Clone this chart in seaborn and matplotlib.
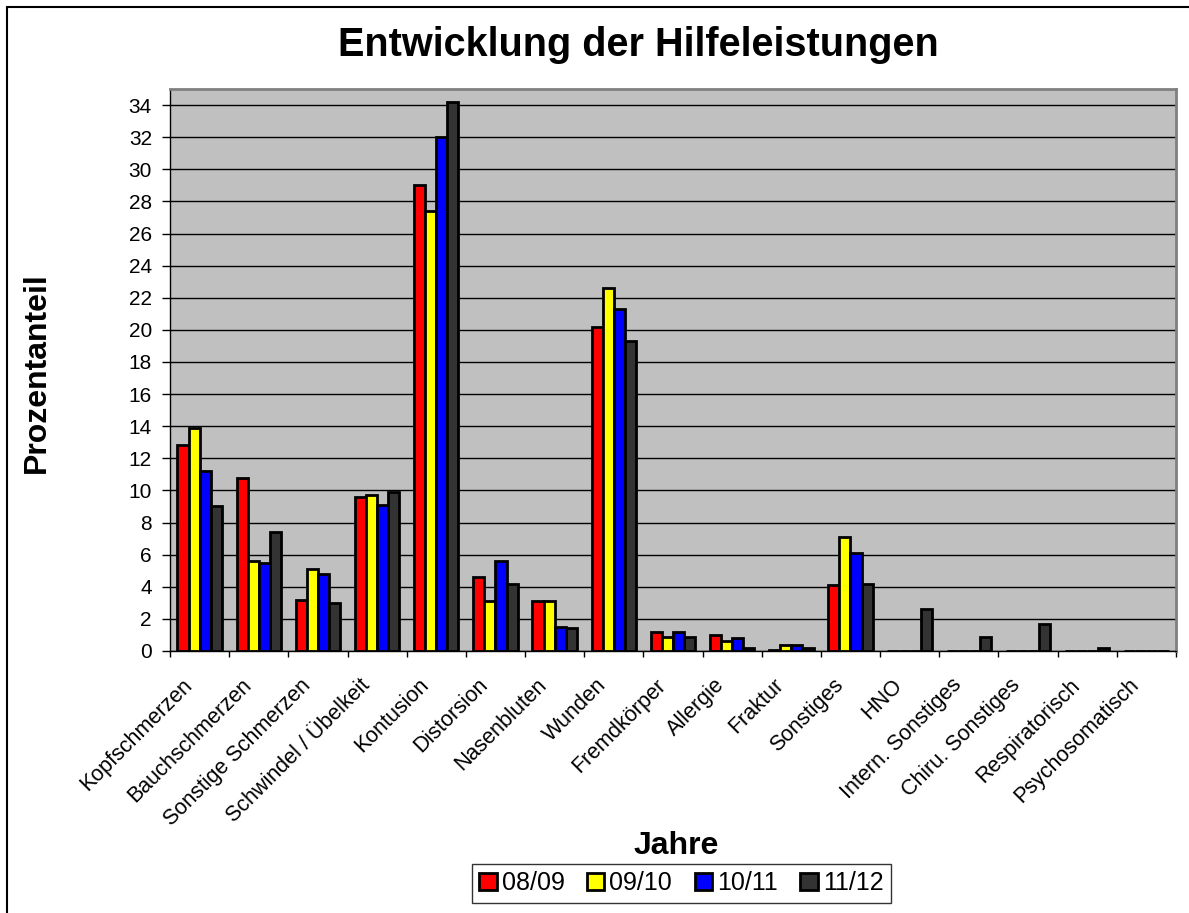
import matplotlib
matplotlib.use("Agg")
import matplotlib.pyplot as plt
import matplotlib.transforms as mtransforms
import pandas as pd
import numpy as np
import seaborn as sns
from matplotlib.patches import Rectangle

sns.set_theme(style="white")
plt.rcParams['font.family'] = ['Liberation Sans', 'DejaVu Sans']
plt.rcParams['text.color'] = 'black'
plt.rcParams['axes.labelcolor'] = 'black'
plt.rcParams['xtick.color'] = 'black'
plt.rcParams['ytick.color'] = 'black'

# categories and values
kategorien = ["Kopfschmerzen", "Bauchschmerzen", "Sonstige Schmerzen",
              "Schwindel / Übelkeit", "Kontusion", "Distorsion", "Nasenbluten",
              "Wunden", "Fremdkörper", "Allergie", "Fraktur", "Sonstiges", "HNO",
              "Intern. Sonstiges", "Chiru. Sonstiges", "Respiratorisch",
              "Psychosomatisch"]
jahre = ["08/09", "09/10", "10/11", "11/12"]

w_0809 = [12.8, 10.8, 3.2, 9.6, 29.0, 4.6, 3.1, 20.2, 1.2, 1.0, 0.05, 4.1, 0, 0, 0, 0, 0]
w_0910 = [13.9, 5.6, 5.1, 9.7, 27.4, 3.1, 3.1, 22.6, 0.9, 0.6, 0.4, 7.1, 0, 0, 0, 0, 0]
w_1011 = [11.2, 5.5, 4.8, 9.1, 32.0, 5.6, 1.5, 21.3, 1.2, 0.8, 0.4, 6.1, 0, 0, 0, 0, 0]
w_1112 = [9.0, 7.4, 3.0, 9.9, 34.2, 4.2, 1.4, 19.3, 0.9, 0.2, 0.2, 4.2, 2.6, 0.9, 1.7, 0.2, 0]

farben = ["#FF0000", "#FFFF00", "#0000FF", "#333333"]

df = pd.DataFrame({"Kategorie": kategorien * 4,
                   "Jahr": np.repeat(jahre, len(kategorien)),
                   "Wert": w_0809 + w_0910 + w_1011 + w_1112})

fig = plt.figure(figsize=(11.89, 9.13), dpi=100)
ax = fig.add_axes([0.143, 0.287, 0.846, 0.6155])

sns.barplot(data=df, x="Kategorie", y="Wert", hue="Jahr", palette=farben,
            width=0.75, edgecolor="black", linewidth=2, saturation=1,
            ax=ax, legend=True)

ax.set_facecolor("#C0C0C0")
ax.set_ylim(0, 35)
ax.set_xlim(-0.5, len(kategorien) - 0.5)
ax.set_yticks(range(0, 35, 2))
ax.yaxis.grid(True, color="black", linewidth=1)
ax.set_axisbelow(True)
for s in ["top", "right"]:
    ax.spines[s].set_color("#808080")
    ax.spines[s].set_linewidth(2)
for s in ["left", "bottom"]:
    ax.spines[s].set_color("black")
    ax.spines[s].set_linewidth(1)

ax.set_xticks(np.arange(len(kategorien) + 1) - 0.5, minor=True)
ax.set_xticks(range(len(kategorien)))
ax.set_xticklabels(kategorien, rotation=45, ha="right", rotation_mode="anchor",
                   fontsize=15.5)
ax.tick_params(axis="x", which="major", length=0, pad=7)
ax.tick_params(axis="x", which="minor", length=4.5, color="black", width=1,
               direction="out", bottom=True)
ax.tick_params(axis="y", length=6, color="black", width=1, direction="out",
               left=True, labelsize=15, pad=7)

# shift the slanted labels a bit down and left, like the original
verschiebung = mtransforms.ScaledTranslation(-18 / 100, -14 / 100, fig.dpi_scale_trans)
for lab in ax.get_xticklabels():
    lab.set_transform(lab.get_transform() + verschiebung)

ax.set_xlabel("Jahre", fontsize=23, fontweight="bold")
ax.xaxis.set_label_coords(0.503, -0.32)
ax.set_ylabel("Prozentanteil", fontsize=23, fontweight="bold")
ax.yaxis.set_label_coords(-0.117, 0.496)
fig.suptitle("Entwicklung der Hilfeleistungen", fontsize=28.5, fontweight="bold",
             x=0.537, y=0.972)

leg = ax.legend(loc="upper center", bbox_to_anchor=(0.573, 0.054),
                bbox_transform=fig.transFigure, ncol=4,
                fontsize=18, frameon=True, fancybox=False, edgecolor="black",
                handlelength=0.7, handleheight=0.7, handletextpad=0.2,
                columnspacing=0.9, borderpad=0.3, borderaxespad=0)
leg.get_frame().set_linewidth(1)

fig.patches.append(Rectangle((7 / 1189, -0.1), 1.2, 1 - 7 / 913 + 0.1,
                             transform=fig.transFigure, fill=False,
                             edgecolor="black", linewidth=1.5))

fig.savefig("out.png", dpi=100)
